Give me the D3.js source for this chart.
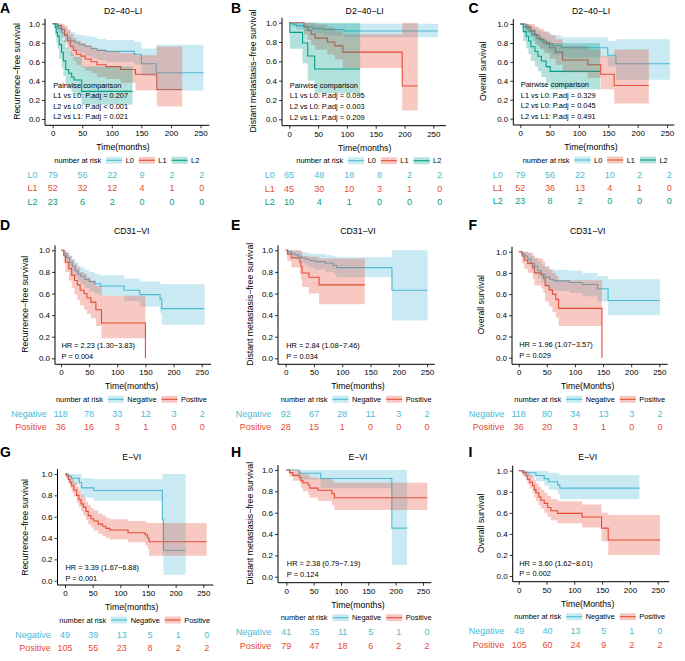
<!DOCTYPE html>
<html><head><meta charset="utf-8">
<script src="https://cdn.jsdelivr.net/npm/d3@7"></script>
<style>
body{margin:0;background:#fff}
svg{display:block}
text{font-family:"Liberation Sans",Arial,Helvetica,sans-serif}
</style>
</head><body>
<svg id="c" width="685" height="661"></svg>
<script>
// ---------- shared ticks ----------
const timeTicks = [0, 50, 100, 150, 200, 250];
const survTicks = [0, 0.2, 0.4, 0.6, 0.8, 1.0];
const riskTimes = [0, 50, 100, 150, 200, 250];

// ---------- colours ----------
const BLUE = "#4DBBD5", RED = "#E64B35", GREEN = "#00A087";

// ---------- curve data: rows [time, survival, lower CI, upper CI] ----------
const A_L0 = [[0,1,1,1],[5,.97,.93,1],[10,.95,.90,1],[15,.91,.85,.98],[20,.88,.81,.96],[25,.85,.77,.93],[30,.82,.74,.91],[38,.80,.71,.89],[45,.78,.69,.88],[55,.76,.66,.87],[65,.74,.64,.86],[75,.72,.62,.84],[90,.71,.60,.83],[138,.68,.57,.81],[150,.58,.45,.74],[175,.486,.30,.78],[255,.486,.30,.78]];
const A_L1 = [[0,1,1,1],[8,.98,.94,1],[15,.94,.88,1],[20,.88,.80,.98],[25,.82,.73,.94],[30,.76,.66,.89],[35,.72,.61,.85],[40,.68,.57,.82],[48,.66,.54,.80],[55,.63,.51,.78],[65,.60,.48,.75],[75,.57,.44,.73],[90,.55,.42,.71],[115,.52,.38,.69],[140,.47,.30,.67],[176,.31,.13,.76],[219,.31,.13,.76]];
const A_L2 = [[0,1,1,1],[4,.96,.88,1],[6,.91,.80,1],[8,.87,.74,1],[11,.78,.63,.96],[15,.70,.54,.90],[18,.61,.45,.83],[22,.52,.36,.75],[27,.48,.32,.72],[32,.44,.28,.68],[36,.41,.25,.65],[49,.29,.15,.55],[135,.29,.15,.55]];

const B_L0 = [[0,1,1,1],[5,.985,.96,1],[12,.97,.93,1],[25,.955,.91,1],[40,.94,.89,.995],[60,.93,.87,.99],[95,.914,.85,.99],[258,.914,.85,.99]];
const B_L1 = [[0,1,1,1],[25.5,.96,.88,1],[32,.92,.82,1],[38,.88,.77,1],[45,.84,.72,.98],[66,.80,.67,.95],[79,.76,.62,.92],[93,.695,.53,.88],[196,.345,.09,1],[223,.345,.09,1]];
const B_L2 = [[0,1,1,1],[1,.90,.73,1],[23,.79,.58,1],[32,.655,.40,1],[44,.52,.27,1],[123,.52,.27,1]];

const C_L0 = [[0,1,1,1],[5,.97,.93,1],[10,.95,.90,1],[15,.92,.86,.99],[20,.89,.82,.97],[28,.85,.77,.94],[35,.82,.73,.92],[45,.79,.70,.90],[55,.77,.67,.88],[70,.75,.65,.86],[149,.67,.55,.82],[163,.58,.41,.84],[255,.58,.41,.84]];
const C_L1 = [[0,1,1,1],[10,.97,.92,1],[18,.93,.86,1],[25,.88,.79,.97],[32,.84,.74,.95],[40,.80,.69,.92],[50,.75,.63,.88],[60,.70,.57,.84],[72,.62,.49,.77],[115,.57,.43,.73],[137,.47,.31,.66],[160,.35,.16,.73],[219,.35,.16,.73]];
const C_L2 = [[0,1,1,1],[5,.92,.82,1],[10,.87,.74,1],[14,.82,.68,.98],[18,.76,.61,.94],[25,.71,.55,.90],[30,.66,.50,.87],[36,.61,.44,.84],[44,.55,.38,.82],[51,.50,.31,.80],[136,.50,.31,.80]];

const D_Neg = [[0,1,1,1],[5,.97,.94,1],[10,.93,.89,.98],[15,.89,.84,.95],[20,.85,.79,.92],[25,.81,.75,.89],[30,.78,.71,.86],[35,.76,.68,.84],[42,.73,.65,.82],[50,.71,.62,.80],[60,.69,.60,.78],[70,.67,.58,.77],[112,.63,.53,.74],[140,.59,.48,.71],[176,.55,.42,.69],[179,.46,.31,.685],[255,.46,.31,.685]];
const D_Pos = [[0,1,1,1],[5,.95,.88,1],[8,.89,.80,.98],[14,.83,.72,.95],[19,.77,.65,.91],[24,.72,.59,.87],[29,.68,.54,.84],[34,.63,.49,.80],[41,.60,.45,.78],[46,.56,.41,.75],[53,.52,.37,.72],[62,.45,.30,.67],[72,.327,.185,.58],[150,0,0,0]];

const E_Neg = [[0,1,1,1],[4,.985,.96,1],[10,.97,.94,1],[16,.96,.92,1],[22,.945,.90,.995],[28,.93,.88,.985],[35,.92,.86,.98],[42,.905,.84,.97],[52,.895,.82,.965],[70,.88,.80,.955],[84,.86,.78,.945],[90,.84,.75,.935],[188,.63,.35,1],[251,.63,.35,1]];
const E_Pos = [[0,1,1,1],[3,.965,.90,1],[10,.93,.84,1],[25,.89,.78,1],[27,.85,.73,.99],[29,.79,.66,.95],[41,.75,.60,.94],[59,.68,.50,.925],[140,.68,.50,.925]];

const F_Neg = [[0,1,1,1],[5,.98,.95,1],[10,.96,.92,1],[16,.93,.88,.99],[22,.89,.83,.96],[28,.86,.79,.94],[34,.82,.75,.91],[40,.79,.71,.88],[47,.76,.68,.86],[55,.74,.65,.84],[62,.725,.63,.83],[90,.71,.61,.82],[113,.69,.58,.80],[140,.65,.53,.77],[159,.54,.40,.74],[251,.54,.40,.74]];
const F_Pos = [[0,1,1,1],[6,.96,.89,1],[10,.92,.84,1],[16,.89,.80,.99],[25,.85,.74,.97],[28,.80,.68,.94],[40,.78,.65,.93],[44,.75,.61,.91],[47,.68,.53,.86],[54,.64,.48,.83],[60,.60,.43,.80],[66,.55,.38,.77],[71,.465,.30,.73],[148,0,0,0]];

const G_Neg = [[0,1,1,1],[6,.98,.94,1],[12,.96,.90,1],[26,.92,.84,1],[30,.87,.78,.96],[52,.845,.75,.95],[176,.57,.23,1],[178,.285,.055,1],[218,.285,.055,1]];
const G_Pos = [[0,1,1,1],[3,.98,.95,1],[6,.95,.91,.99],[9,.92,.87,.97],[12,.89,.83,.95],[16,.85,.79,.92],[21,.80,.73,.88],[25,.76,.69,.84],[29,.72,.65,.81],[33,.69,.61,.78],[38,.65,.57,.74],[42,.61,.53,.71],[47,.58,.50,.68],[52,.56,.47,.66],[60,.53,.44,.63],[68,.51,.42,.61],[74,.49,.40,.59],[81,.475,.385,.575],[114,.45,.36,.56],[145,.43,.33,.55],[149,.40,.30,.54],[152,.365,.235,.54],[256,.365,.235,.54]];

const H_Neg = [[0,1,1,1],[22.6,.97,.91,1],[62.8,.92,.83,1],[193,.455,.11,1],[221,.455,.11,1]];
const H_Pos = [[0,1,1,1],[6,.975,.94,1],[12,.95,.90,1],[24,.93,.87,.99],[27,.90,.83,.97],[30.5,.88,.80,.96],[40,.86,.77,.95],[43,.83,.74,.93],[58,.81,.71,.92],[83.5,.78,.67,.90],[88,.74,.625,.88],[258,.74,.625,.88]];

const I_Neg = [[0,1,1,1],[10,.98,.94,1],[31,.955,.90,1],[46,.925,.86,1],[54,.895,.82,.98],[70,.865,.78,.97],[74,.835,.73,.96],[217,.835,.73,.96]];
const I_Pos = [[0,1,1,1],[7,.98,.95,1],[13,.95,.91,1],[16,.92,.87,.98],[20,.89,.83,.96],[25,.86,.79,.94],[28,.82,.75,.91],[31,.79,.71,.88],[36,.75,.67,.85],[40,.72,.64,.82],[46,.69,.60,.79],[52,.65,.56,.76],[58,.62,.53,.73],[70,.595,.50,.71],[114,.56,.46,.68],[149,.455,.33,.60],[161,.342,.20,.58],[254,.342,.20,.58]];

// ---------- numbers at risk ----------
const A_risk_L0 = [79,56,22,9,2,2], A_risk_L1 = [52,32,12,4,1,0], A_risk_L2 = [23,6,2,0,0,0];
const B_risk_L0 = [65,48,18,8,2,2], B_risk_L1 = [45,30,10,3,1,0], B_risk_L2 = [10,4,1,0,0,0];
const C_risk_L0 = [79,56,22,10,2,2], C_risk_L1 = [52,36,13,4,1,0], C_risk_L2 = [23,8,2,0,0,0];
const D_risk_Neg = [118,78,33,12,3,2], D_risk_Pos = [36,16,3,1,0,0];
const E_risk_Neg = [92,67,28,11,3,2], E_risk_Pos = [28,15,1,0,0,0];
const F_risk_Neg = [118,80,34,13,3,2], F_risk_Pos = [36,20,3,1,0,0];
const G_risk_Neg = [49,39,13,5,1,0], G_risk_Pos = [105,55,23,8,2,2];
const H_risk_Neg = [41,35,11,5,1,0], H_risk_Pos = [79,47,18,6,2,2];
const I_risk_Neg = [49,40,13,5,1,0], I_risk_Pos = [105,60,24,9,2,2];

// ---------- texts ----------
const titles = ["D2−40−LI","D2−40−LI","D2−40−LI","CD31−VI","CD31−VI","CD31−VI","E−VI","E−VI","E−VI"];
const yTitles = ["Recurrence−free survival","Distant metastasis−free survival","Overall survival"];
const xTitles = ["Time(months)","Time(months)","Time(months)","Time(months)","Time(months)","Time(Months)","Time(months)","Time(months)","Time(Months)"];
const A_note = ["Pairwise comparison","L1 vs L0: P.adj = 0.207","L2 vs L0: P.adj < 0.001","L2 vs L1: P.adj = 0.021"];
const B_note = ["Pairwise comparison","L1 vs L0: P.adj = 0.095","L2 vs L0: P.adj = 0.003","L2 vs L1: P.adj = 0.209"];
const C_note = ["Pairwise comparison","L1 vs L0: P.adj = 0.329","L2 vs L0: P.adj = 0.045","L2 vs L1: P.adj = 0.491"];
const D_note = ["HR = 2.23 (1.30−3.83)","P = 0.004"];
const E_note = ["HR = 2.84 (1.08−7.46)","P = 0.034"];
const F_note = ["HR = 1.96 (1.07−3.57)","P = 0.029"];
const G_note = ["HR = 3.39 (1.67−6.88)","P = 0.001"];
const H_note = ["HR = 2.38 (0.79−7.19)","P = 0.124"];
const I_note = ["HR = 3.60 (1.62−8.01)","P = 0.002"];

// ---------- assemble groups ----------
const L3 = (d0,d1,d2,r0,r1,r2) => [
  {name:"L0", color:BLUE, data:d0, risk:r0},
  {name:"L1", color:RED, data:d1, risk:r1},
  {name:"L2", color:GREEN, data:d2, risk:r2}];
const NP = (dn,dp,rn,rp) => [
  {name:"Negative", color:BLUE, data:dn, risk:rn},
  {name:"Positive", color:RED, data:dp, risk:rp}];

// ---------- layout (pixel geometry per panel) ----------
const layout = [
 {letter:"A", lx:0,   ly:13,  tx:123,  ty:14,  ax:45,   x0:52.7,  x250:200.5, xr:209.3, y1:23.7,  y0:119,   yb:125.3, ylx:16.7,  legX:54.3,  rlab:37.5,  rx0:52.7,  rx250:201.7},
 {letter:"B", lx:231, ly:13,  tx:364.7,ty:14,  ax:282,  x0:289.3, x250:433.3, xr:446,   y1:22.7,  y0:119.3, yb:125.7, ylx:253,   legX:296.3, rlab:274.7, rx0:289,   rx250:439.7},
 {letter:"C", lx:468.5,ly:13, tx:591,  ty:14,  ax:513.3, x0:520.3, x250:667,   xr:674.3, y1:24,    y0:118.7, yb:125,   ylx:483.3, legX:522.7, rlab:502.7, rx0:520.3, rx250:669.3},
 {letter:"D", lx:0,   ly:230, tx:131.7,ty:234, ax:55,   x0:61,    x250:201.7, xr:211,   y1:250.3, y0:358.3, yb:364.3, ylx:25,    legX:56,    rlab:46.7,  rx0:60.7,  rx250:202.3},
 {letter:"E", lx:231, ly:230, tx:358,  ty:234, ax:278,  x0:285.7, x250:427,   xr:434.7, y1:250.3, y0:358.3, yb:364.3, ylx:249.7, legX:280.7, rlab:271.3, rx0:285.7, rx250:427},
 {letter:"F", lx:468.5,ly:230,tx:587.7,ty:234, ax:512,  x0:518.7, x250:659.3, xr:667.7, y1:251.7, y0:357.7, yb:364.3, ylx:481,   legX:514.3, rlab:504.3, rx0:518.7, rx250:660},
 {letter:"G", lx:0,   ly:456.7,tx:131.7,ty:460,ax:57.5, x0:65,    x250:203.3, xr:213.3, y1:474,   y0:580.7, yb:585,   ylx:25,    legX:59.3,  rlab:50.7,  rx0:65,    rx250:206.7},
 {letter:"H", lx:231, ly:456.7,tx:358, ty:460, ax:278,  x0:286.3, x250:423,   xr:431.3, y1:470,   y0:576.7, yb:582.7, ylx:249.7, legX:280.7, rlab:271.3, rx0:286.3, rx250:427},
 {letter:"I", lx:468.5,ly:456.7,tx:587.7,ty:460,ax:512.7,x0:518.7, x250:657.7, xr:669.3, y1:470.7, y0:576,   yb:581.7, ylx:481,   legX:514.3, rlab:504.3, rx0:519.3, rx250:660}
];

const groupsList = [
  L3(A_L0,A_L1,A_L2,A_risk_L0,A_risk_L1,A_risk_L2),
  L3(B_L0,B_L1,B_L2,B_risk_L0,B_risk_L1,B_risk_L2),
  L3(C_L0,C_L1,C_L2,C_risk_L0,C_risk_L1,C_risk_L2),
  NP(D_Neg,D_Pos,D_risk_Neg,D_risk_Pos),
  NP(E_Neg,E_Pos,E_risk_Neg,E_risk_Pos),
  NP(F_Neg,F_Pos,F_risk_Neg,F_risk_Pos),
  NP(G_Neg,G_Pos,G_risk_Neg,G_risk_Pos),
  NP(H_Neg,H_Pos,H_risk_Neg,H_risk_Pos),
  NP(I_Neg,I_Pos,I_risk_Neg,I_risk_Pos)
];
const notes = [A_note,B_note,C_note,D_note,E_note,F_note,G_note,H_note,I_note];

const svg = d3.select("#c");
const FONT = '"Liberation Sans",Arial,Helvetica,sans-serif';

function drawPanel(L, i) {
  const groups = groupsList[i];
  const g = svg.append("g");
  const x = d3.scaleLinear().domain([0,250]).range([L.x0, L.x250]);
  const y = d3.scaleLinear().domain([0,1]).range([L.y0, L.y1]);
  const rx = d3.scaleLinear().domain([0,250]).range([L.rx0, L.rx250]);

  // panel letter + title
  g.append("text").attr("x", L.lx).attr("y", L.ly).attr("font-size", 14).attr("font-weight", "bold").text(L.letter);
  g.append("text").attr("x", L.tx).attr("y", L.ty).attr("text-anchor", "middle").attr("font-size", 8.7).text(titles[i]);

  // survival step lines
  const line = d3.line().curve(d3.curveStepAfter).x(d => x(d[0])).y(d => y(d[1]));
  const area = d3.area().curve(d3.curveStepAfter).x(d => x(d[0])).y0(d => y(d[2])).y1(d => y(d[3]));
  groups.forEach(gr => g.append("path").attr("d", line(gr.data)).attr("fill", "none")
      .attr("stroke", gr.color).attr("stroke-width", 1.1));
  groups.forEach(gr => g.append("path").attr("d", area(gr.data)).attr("fill", gr.color).attr("fill-opacity", 0.3));

  // axes
  const yAx = g.append("g").attr("transform", `translate(${L.ax},0)`)
    .call(d3.axisLeft(y).tickValues(survTicks).tickFormat(d3.format(".1f")).tickSize(3).tickPadding(2));
  const xAx = g.append("g").attr("transform", `translate(0,${L.yb})`)
    .call(d3.axisBottom(x).tickValues(timeTicks).tickSize(3).tickPadding(2.5));
  [yAx, xAx].forEach(a => {
    a.select(".domain").remove();
    a.attr("font-family", FONT).attr("font-size", 8);
    a.selectAll("text").attr("fill", "#000");
    a.selectAll("line").attr("stroke", "#000").attr("stroke-width", 0.8);
  });
  g.append("line").attr("x1", L.ax).attr("x2", L.ax).attr("y1", L.y1 - 5).attr("y2", L.yb)
    .attr("stroke", "#000").attr("stroke-width", 1);
  g.append("line").attr("x1", L.ax).attr("x2", L.xr).attr("y1", L.yb).attr("y2", L.yb)
    .attr("stroke", "#000").attr("stroke-width", 1);

  // axis titles
  const yc = (L.y0 + L.y1) / 2;
  g.append("text").attr("transform", `translate(${L.ylx + 3},${yc}) rotate(-90)`)
    .attr("text-anchor", "middle").attr("font-size", 8.7).text(yTitles[i % 3]);
  g.append("text").attr("x", L.tx).attr("y", L.yb + 25).attr("text-anchor", "middle")
    .attr("font-size", 8.7).text(xTitles[i]);

  // annotations
  const nt = notes[i];
  nt.forEach((s, k) => {
    g.append("text").attr("x", L.x0 + 0.5).attr("y", L.y0 + 0.3 - (nt.length - 1 - k) * 10.6)
      .attr("font-size", 7.4).text(s);
  });

  // legend
  const ly = L.yb + 35;
  let lx = L.legX;
  const t0 = g.append("text").attr("x", lx).attr("y", ly + 2.6).attr("font-size", 7.4).text("number at risk");
  lx += t0.node().getComputedTextLength() + 5;
  groups.forEach(gr => {
    g.append("rect").attr("x", lx).attr("y", ly - 3.5).attr("width", 16).attr("height", 7)
      .attr("fill", gr.color).attr("fill-opacity", 0.3);
    g.append("line").attr("x1", lx).attr("x2", lx + 16).attr("y1", ly).attr("y2", ly)
      .attr("stroke", gr.color).attr("stroke-width", 1.1);
    lx += 19.5;
    const tt = g.append("text").attr("x", lx).attr("y", ly + 2.6).attr("font-size", 7.4).text(gr.name);
    lx += tt.node().getComputedTextLength() + 5;
  });

  // risk table
  groups.forEach((gr, k) => {
    const ry = L.yb + 49.5 + k * 13.3 + 3.2;
    g.append("text").attr("x", L.rlab).attr("y", ry).attr("text-anchor", "end")
      .attr("font-size", 9).attr("fill", gr.color).text(gr.name);
    gr.risk.forEach((v, j) => {
      g.append("text").attr("x", rx(riskTimes[j])).attr("y", ry).attr("text-anchor", "middle")
        .attr("font-size", 9).attr("fill", gr.color).text(v);
    });
  });
}

layout.forEach(drawPanel);
</script>
</body></html>
